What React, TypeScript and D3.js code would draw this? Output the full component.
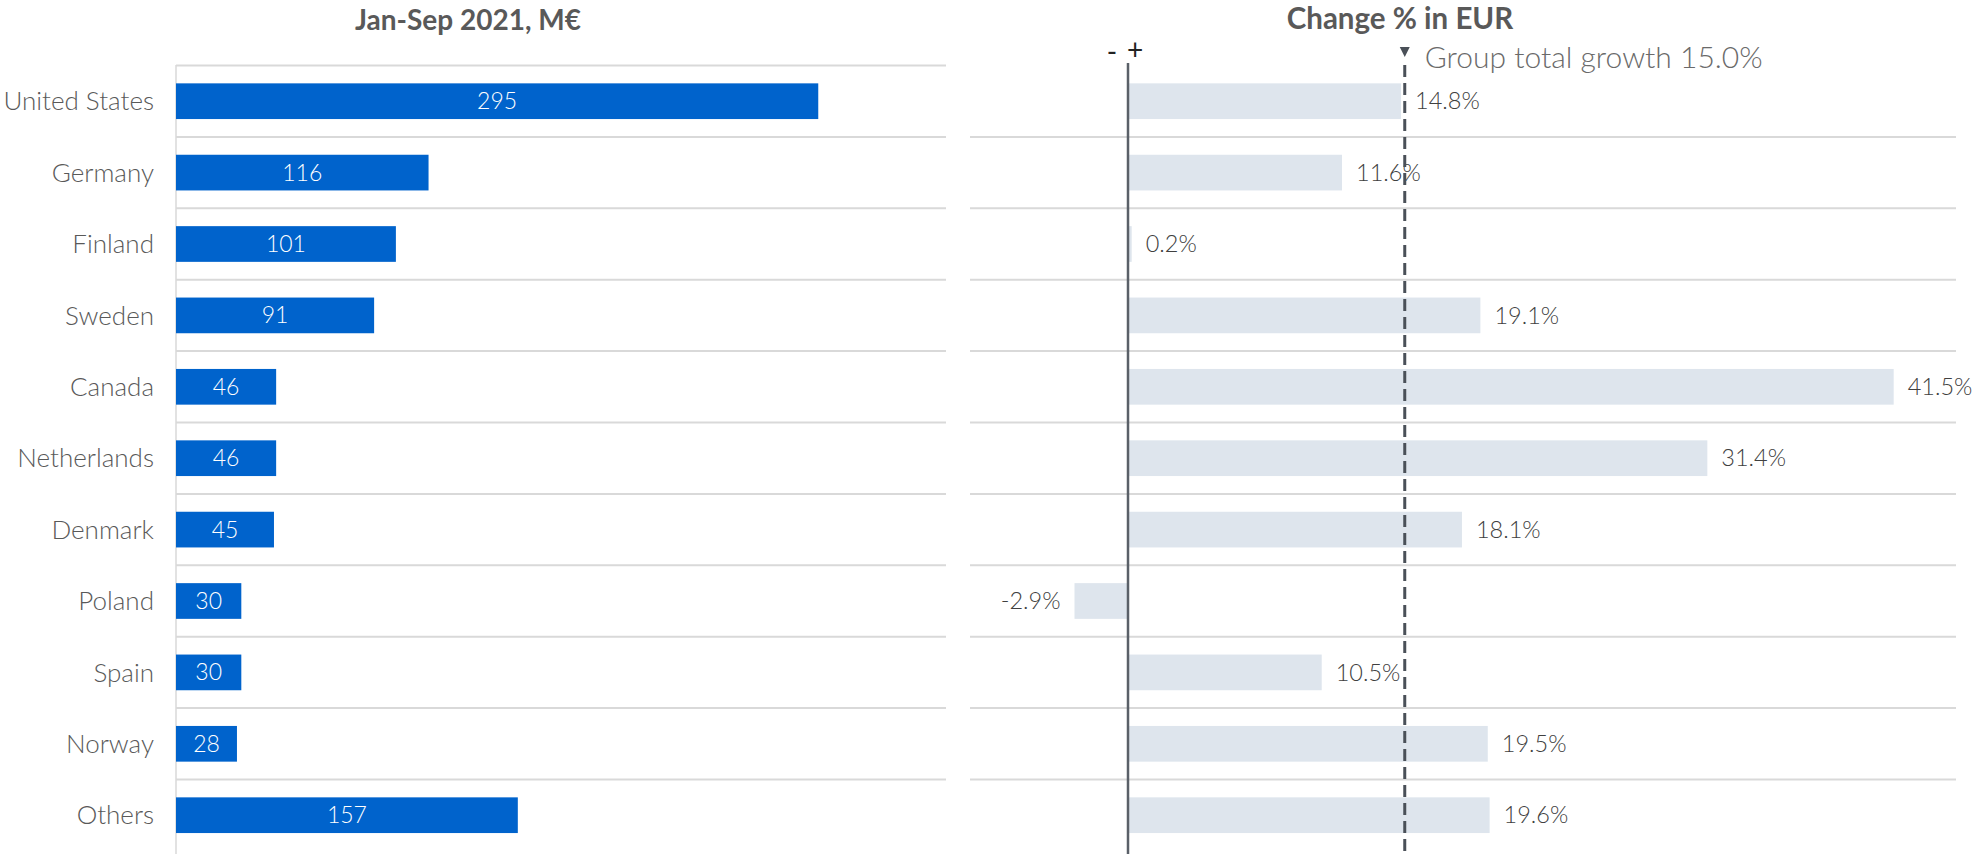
import React from "react";
import * as d3 from "d3";

const categories = ["United States","Germany","Finland","Sweden","Canada","Netherlands","Denmark","Poland","Spain","Norway","Others"];
const salesValues = [295,116,101,91,46,46,45,30,30,28,157];
const changeValues = [14.8,11.6,0.2,19.1,41.5,31.4,18.1,-2.9,10.5,19.5,19.6];
const groupGrowth = 15.0;
const leftTitle = "Jan-Sep 2021, M€";
const rightTitle = "Change % in EUR";

const W = 1974, H = 854;
const FONT = "Lato, 'Liberation Sans', sans-serif";

export default function App() {
  const y = d3.scaleBand<string>().domain(categories).range([65.5, 65.5 + 71.4 * 11]).paddingInner(0.5).paddingOuter(0.25);
  const rowY = d3.scaleBand<string>().domain(categories).range([65.5, 65.5 + 71.4 * 11]);
  const xL = d3.scaleLinear().domain([0, 350]).range([176, 938]);
  const k = 18.45;
  const xR = d3.scaleLinear().domain([-8, 45]).range([1128 - 8 * k, 1128 + 45 * k]);
  const fmt = (v: number) => v.toFixed(1) + "%";
  const gridColor = "#d9d9d9";
  return (
    <svg width={W} height={H} style={{ position: "absolute", left: 0, top: 0, background: "#fff" }}>
      <g fontFamily={FONT}>
        <text x={468} y={30} textAnchor="middle" fontSize={28} fontWeight={700} fill="#595959">{leftTitle}</text>
        <text x={1400} y={29} textAnchor="middle" fontSize={29.5} fontWeight={700} fill="#595959">{rightTitle}</text>
        <line x1={176} x2={946} y1={rowY(categories[0])!} y2={rowY(categories[0])!} stroke={gridColor} strokeWidth={2} />
        {categories.slice(1).map((c) => (
          <g key={"g" + c}>
            <line x1={176} x2={946} y1={rowY(c)!} y2={rowY(c)!} stroke={gridColor} strokeWidth={2} />
            <line x1={970} x2={1956} y1={rowY(c)!} y2={rowY(c)!} stroke={gridColor} strokeWidth={2} />
          </g>
        ))}
        <line x1={xL(0)} x2={xL(0)} y1={65} y2={H} stroke={gridColor} strokeWidth={1.5} />
        {categories.map((c, i) => (
          <g key={c}>
            <text x={154} y={y(c)! + y.bandwidth() / 2} dy="0.35em" textAnchor="end" fontSize={26} fontWeight={300} fill="#595959">{c}</text>
            <rect x={xL(0)} y={y(c)!} width={xL(salesValues[i]) - xL(0)} height={y.bandwidth()} fill="#0063cc" />
            <text x={(xL(0) + xL(salesValues[i])) / 2} y={y(c)! + y.bandwidth() / 2} dy="0.35em" textAnchor="middle" fontSize={23} fontWeight={300} fill="#ffffff">{salesValues[i]}</text>
            <rect x={Math.min(xR(0), xR(changeValues[i]))} y={y(c)!} width={Math.abs(xR(changeValues[i]) - xR(0))} height={y.bandwidth()} fill="#dee5ed" />
            <text x={changeValues[i] >= 0 ? xR(changeValues[i]) + 14 : xR(changeValues[i]) - 14} y={y(c)! + y.bandwidth() / 2} dy="0.35em" textAnchor={changeValues[i] >= 0 ? "start" : "end"} fontSize={23.5} fontWeight={300} fill="#404040">{fmt(changeValues[i])}</text>
          </g>
        ))}
        <line x1={xR(0)} x2={xR(0)} y1={63} y2={H} stroke="#5a6068" strokeWidth={2.5} />
        <line x1={xR(groupGrowth)} x2={xR(groupGrowth)} y1={65} y2={H} stroke="#4a5058" strokeWidth={3} strokeDasharray="12,6" />
        <path d={`M${xR(groupGrowth) - 5},47 L${xR(groupGrowth) + 5},47 L${xR(groupGrowth)},57 Z`} fill="#4a5058" />
        <text x={xR(groupGrowth) + 20} y={57} dy="0.35em" fontSize={30} fontWeight={300} fill="#6a6a6a">{`Group total growth ${groupGrowth.toFixed(1)}%`}</text>
        <text x={1112} y={52} dy="0.35em" textAnchor="middle" fontSize={28} fill="#222">-</text>
        <text x={1135} y={50} dy="0.35em" textAnchor="middle" fontSize={28} fill="#222">+</text>
      </g>
    </svg>
  );
}
